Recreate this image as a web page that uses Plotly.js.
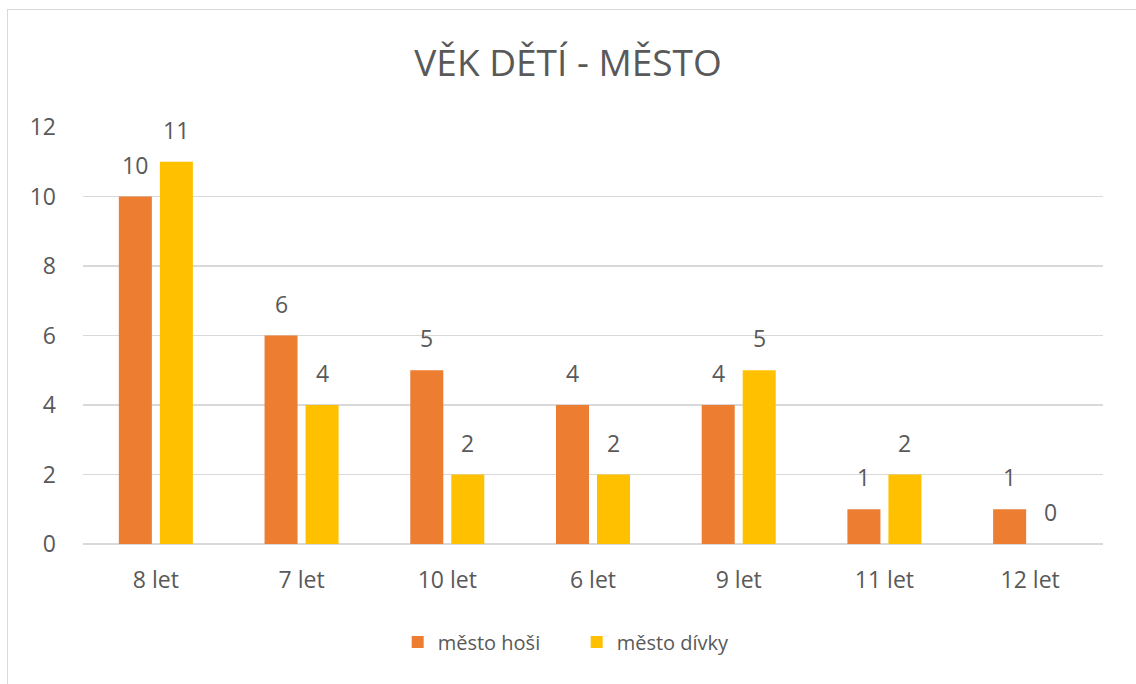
<!DOCTYPE html>
<html><head><meta charset="utf-8">
<script src="https://cdn.plot.ly/plotly-3.0.1.min.js"></script>
<style>
html,body{margin:0;padding:0;background:#fff;}
#frame{position:absolute;left:7px;top:9px;width:1140px;height:690px;border:1.5px solid #d9d9d9;box-sizing:border-box;}
#chart{position:absolute;left:0;top:0;width:1136px;height:684px;}
</style></head>
<body>
<div id="frame"></div>
<div id="chart"></div>
<script>
const categories = ["8 let","7 let","10 let","6 let","9 let","11 let","12 let"];
const boys = [10,6,5,4,4,1,1];
const girls = [11,4,2,2,5,2,0];
const seriesNames = ["město hoši","město dívky"];
const colors = ["#ED7D31","#FFC000"];
const font = "Open Sans, Liberation Sans, sans-serif";
const txt = "#595959";
const mk = (y,i)=>({type:"bar",x:categories,y:y,name:seriesNames[i],marker:{color:colors[i]},hoverinfo:"skip"});
const ann = [];
[boys,girls].forEach((arr,i)=>arr.forEach((v,j)=>ann.push({
  x:categories[j],y:v,xref:"x",yref:"y",text:String(v),showarrow:false,
  xshift:i===0?-20.5:20.5,yshift:32,yanchor:"middle",xanchor:"center",
  font:{family:font,size:23,color:txt}})));
Plotly.newPlot("chart",[mk(boys,0),mk(girls,1)],{
  width:1136,height:684,
  paper_bgcolor:"rgba(0,0,0,0)",plot_bgcolor:"rgba(0,0,0,0)",
  margin:{l:83,r:33,t:127,b:140},
  title:{text:"VĚK DĚTÍ - MĚSTO",x:0.5,xanchor:"center",y:0.908,yanchor:"middle",font:{family:font,size:37,color:txt}},
  barmode:"group",bargap:0.437,bargroupgap:0.195,
  xaxis:{tickfont:{family:font,size:23,color:txt},showgrid:false,zeroline:false,showline:false,ticks:"",automargin:false,ticklabelstandoff:20},
  yaxis:{range:[0,12],dtick:2,tickfont:{family:font,size:23,color:txt},gridcolor:"#d9d9d9",gridwidth:1.5,zeroline:true,zerolinecolor:"#d9d9d9",zerolinewidth:1.5,showline:false,ticks:"",ticklabelstandoff:26,automargin:false},
  annotations:ann,
  showlegend:true,
  legend:{orientation:"h",x:0.484,xanchor:"center",y:-0.235,yanchor:"middle",font:{family:font,size:20,color:txt},itemwidth:30,entrywidth:134},
  font:{family:font}
},{displayModeBar:false,staticPlot:true});
</script>
</body></html>
